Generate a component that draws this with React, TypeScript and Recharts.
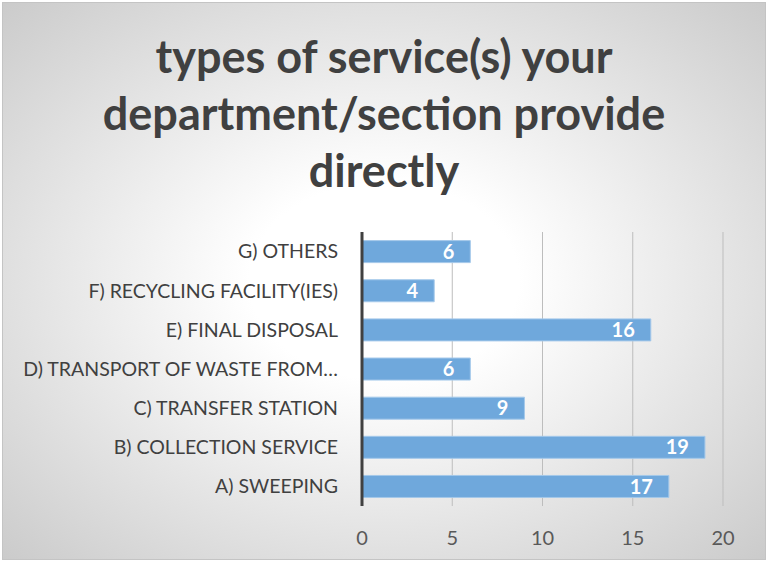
import React from 'react';
import { BarChart, Bar, XAxis, YAxis, CartesianGrid, LabelList } from 'recharts';

const categories = [
  'A) SWEEPING',
  'B) COLLECTION SERVICE',
  'C) TRANSFER STATION',
  'D) TRANSPORT OF WASTE FROM…',
  'E) FINAL DISPOSAL',
  'F) RECYCLING FACILITY(IES)',
  'G) OTHERS',
];
const counts = [17, 19, 9, 6, 16, 4, 6];
const xTicks = [0, 5, 10, 15, 20];

const data = categories.map((name, i) => ({ name, value: counts[i] }));

const App: React.FC = () => {
  return (
    <div style={{ position: 'absolute', left: 0, top: 0, width: 768, height: 562, background: '#fff' }}>
      <div
        style={{
          position: 'absolute',
          left: 2,
          top: 2,
          width: 762,
          height: 556,
          border: '1px solid #c4c4c4',
          background: 'radial-gradient(ellipse at 50% 50%, #ffffff 25%, #cbcbcb 100%)',
        }}
      />
      <div
        style={{
          position: 'absolute',
          left: 0,
          top: 28,
          width: 768,
          textAlign: 'center',
          fontFamily: 'Lato, sans-serif',
          fontWeight: 'bold',
          fontSize: 45,
          lineHeight: '57px',
          color: '#404040',
        }}
      >
        types of service(s) your
        <br />
        department/section provide
        <br />
        directly
      </div>
      <div style={{ position: 'absolute', left: 0, top: 0 }}>
        <BarChart
          width={768}
          height={562}
          data={data}
          layout="vertical"
          margin={{ top: 232, right: 45, bottom: 26, left: 0 }}
          barCategoryGap="22%"
        >
          <CartesianGrid horizontal={false} stroke="#bdbdbd" />
          <XAxis
            type="number"
            domain={[0, 20]}
            ticks={xTicks}
            axisLine={false}
            tickLine={false}
            tickMargin={19}
            height={30}
            tick={{ fill: '#595959', fontSize: 20, fontFamily: 'Lato, sans-serif' }}
          />
          <YAxis
            type="category"
            dataKey="name"
            reversed
            width={362}
            tickLine={false}
            tickMargin={18}
            axisLine={{ stroke: '#404040', strokeWidth: 3 }}
            interval={0}
            tick={{ fill: '#404040', fontSize: 19.5, fontFamily: 'Lato, sans-serif' }}
          />
          <Bar dataKey="value" fill="#6fa8dc" stroke="#a4c8ea" strokeWidth={1} isAnimationActive={false}>
            <LabelList
              dataKey="value"
              position="insideRight"
              offset={16}
              fill="#ffffff"
              style={{ fontSize: 20, fontWeight: 'bold', fontFamily: 'Lato, sans-serif' }}
            />
          </Bar>
        </BarChart>
      </div>
    </div>
  );
};

export default App;
